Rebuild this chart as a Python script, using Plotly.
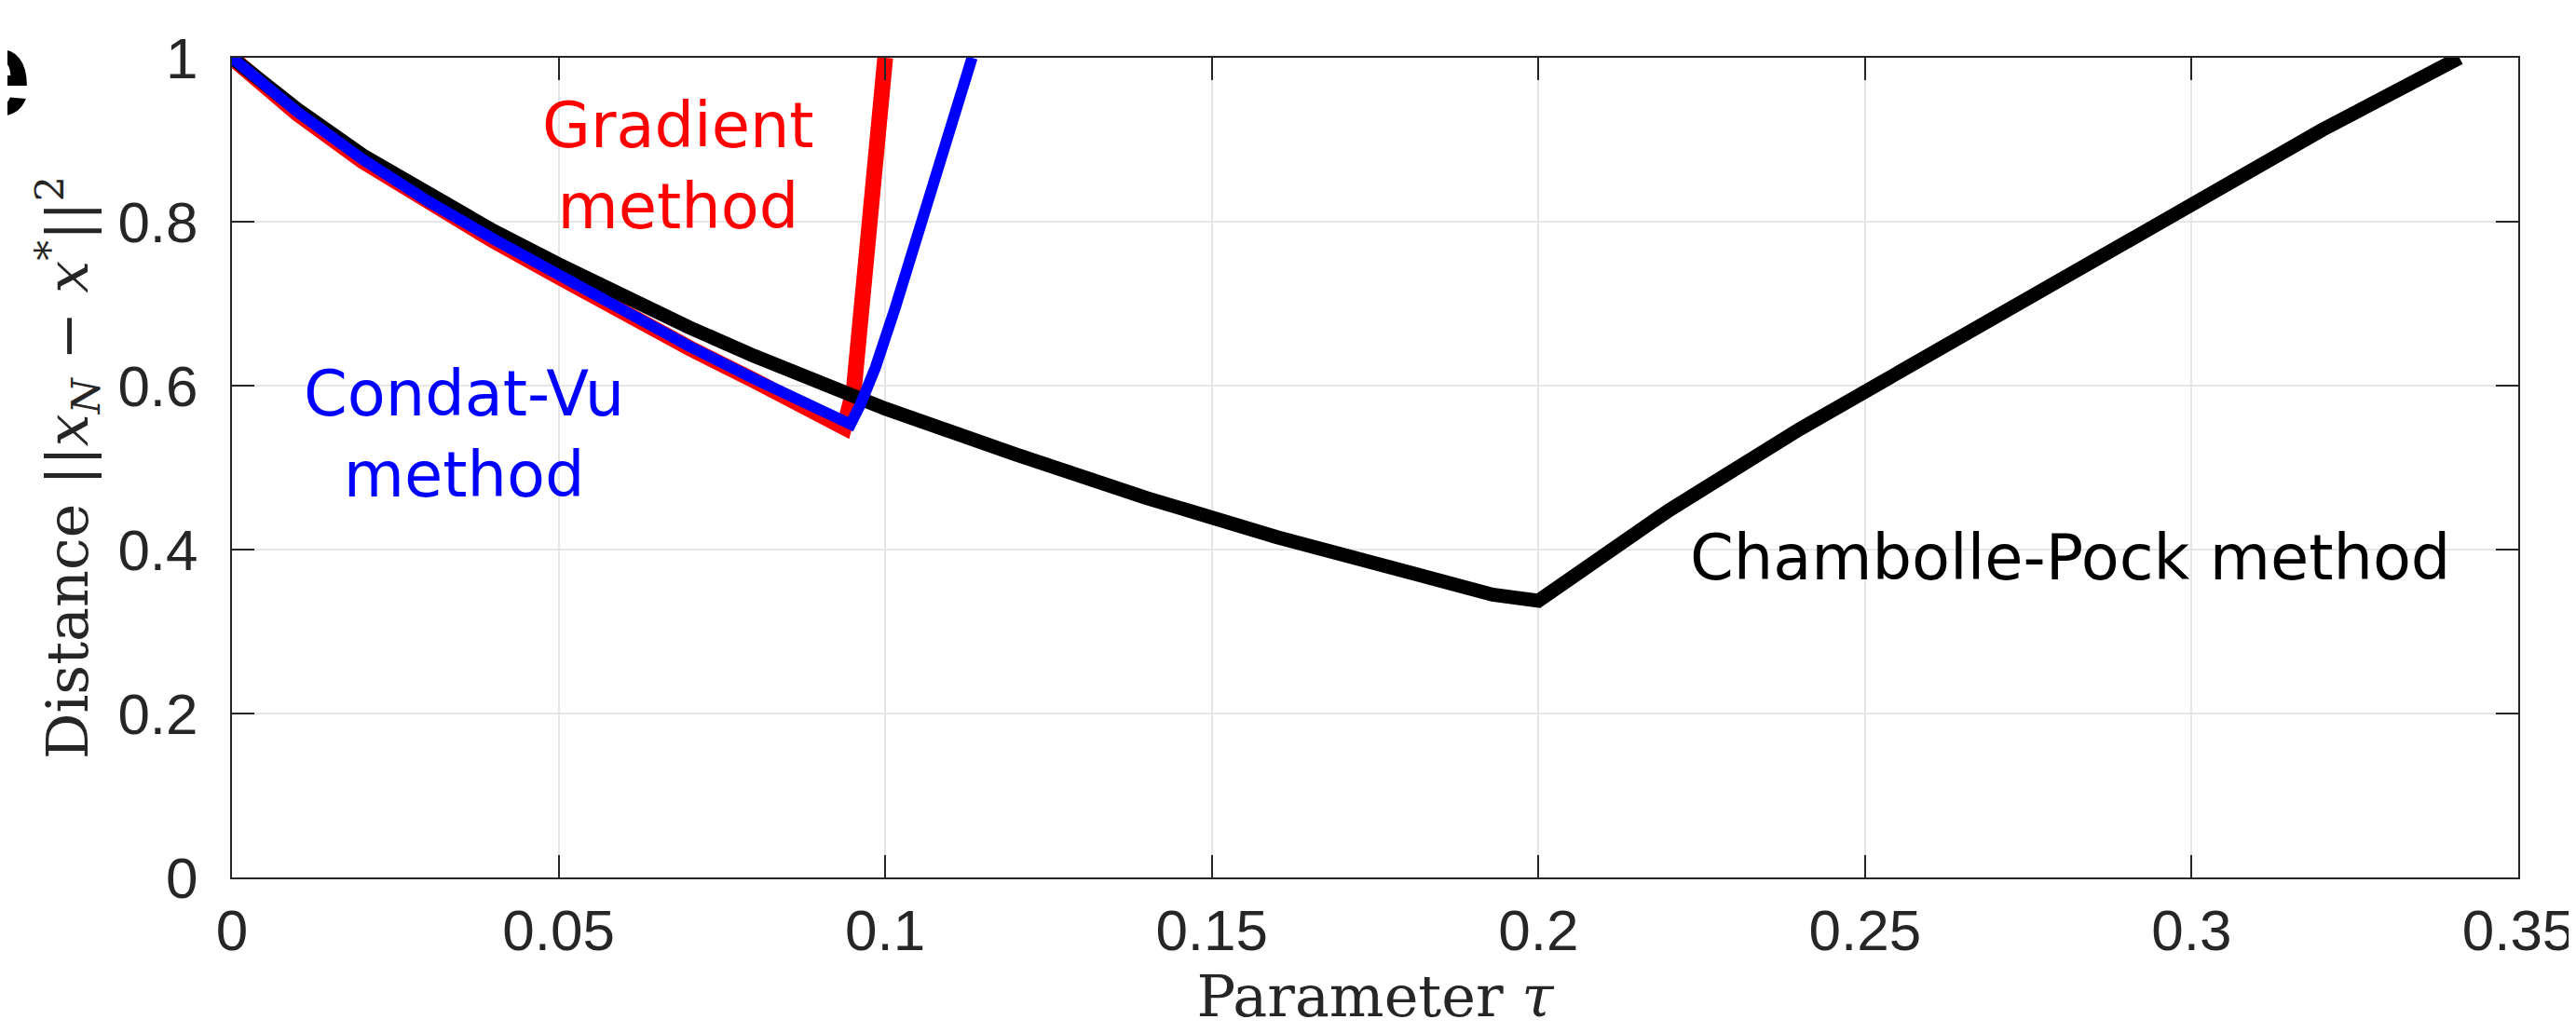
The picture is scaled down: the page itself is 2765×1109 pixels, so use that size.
import plotly.graph_objects as go

# ---- data ----
tau_cp = [0, 0.01, 0.02, 0.03, 0.04, 0.05, 0.06, 0.07, 0.08, 0.09, 0.10, 0.12, 0.14,
          0.16, 0.18, 0.193, 0.2, 0.22, 0.24, 0.26, 0.28, 0.30, 0.32, 0.341]
dist_cp = [1.0, 0.937, 0.881, 0.833, 0.789, 0.748, 0.709, 0.671, 0.636, 0.603, 0.572, 0.516, 0.463,
           0.415, 0.372, 0.345, 0.3375, 0.448, 0.547, 0.638, 0.731, 0.823, 0.912, 1.0]

tau_cv = [0, 0.01, 0.02, 0.03, 0.04, 0.05, 0.06, 0.07, 0.08, 0.09, 0.0947, 0.0962, 0.0985, 0.1015, 0.105, 0.11, 0.1133]
dist_cv = [1.0, 0.934, 0.876, 0.825, 0.779, 0.735, 0.690, 0.648, 0.608, 0.570, 0.553, 0.577, 0.622, 0.694, 0.786, 0.915, 1.0]

tau_gr = [0, 0.01, 0.02, 0.03, 0.04, 0.05, 0.06, 0.07, 0.08, 0.09, 0.0937, 0.0952, 0.1]
dist_gr = [1.0, 0.932, 0.874, 0.823, 0.777, 0.733, 0.688, 0.646, 0.606, 0.568, 0.549, 0.595, 1.0]

x_ticks = [0, 0.05, 0.1, 0.15, 0.2, 0.25, 0.3, 0.35]
y_ticks = [0, 0.2, 0.4, 0.6, 0.8, 1]

W, H = 2765, 1109
L, R, T, B = 241, 70, 54, 175
PW, PH = W - L - R, H - T - B

def px(xp):   # pixel x -> paper x
    return (xp - L) / PW

def py(yp):   # pixel y -> paper y
    return (H - B - yp) / PH

fig = go.Figure()
fig.add_trace(go.Scatter(x=tau_gr, y=dist_gr, mode="lines",
                         line=dict(color="#ff0000", width=17), name="Gradient method"))
fig.add_trace(go.Scatter(x=tau_cp, y=dist_cp, mode="lines",
                         line=dict(color="#000000", width=15), name="Chambolle-Pock method"))
fig.add_trace(go.Scatter(x=tau_cv, y=dist_cv, mode="lines",
                         line=dict(color="#0000ff", width=12), name="Condat-Vu method"))

axis_common = dict(
    showline=True, linecolor="#262626", linewidth=2, mirror="ticks",
    ticks="inside", ticklen=24, tickwidth=2, tickcolor="#262626",
    showgrid=True, gridcolor="#e6e6e6", gridwidth=2, zeroline=False,
    tickfont=dict(family="Liberation Sans, Arial, sans-serif", size=62, color="#262626"),
)

fig.update_layout(
    width=W, height=H,
    margin=dict(l=L, r=R, t=T, b=B, autoexpand=False),
    paper_bgcolor="white", plot_bgcolor="white",
    showlegend=False,
    xaxis=dict(range=[0, 0.35], tickvals=x_ticks,
               ticktext=[("%g" % v) for v in x_ticks],
               ticklabelstandoff=2,
               title=dict(text="Parameter <i>τ</i>", standoff=6,
                          font=dict(family="DejaVu Serif, serif", size=62, color="#262626")),
               **axis_common),
    yaxis=dict(range=[0, 1], tickvals=y_ticks,
               ticktext=[("%g" % v) for v in y_ticks],
               ticklabelstandoff=22,
               title=dict(text="Distance ||<i>x</i><sub><i>N</i></sub> − <i>x</i><sup>*</sup>||<sup>2</sup>",
                          standoff=12,
                          font=dict(family="DejaVu Serif, serif", size=62, color="#262626")),
               **axis_common),
)

sans = "DejaVu Sans, sans-serif"
fig.add_annotation(xref="paper", yref="paper", x=px(720), y=py(170),
                   xanchor="center", yanchor="middle",
                   text="Gradient<br>method", showarrow=False, align="center",
                   font=dict(family=sans, size=67, color="#ff0000"))
fig.add_annotation(xref="paper", yref="paper", x=px(490), y=py(458),
                   xanchor="center", yanchor="middle",
                   text="Condat-Vu<br>method", showarrow=False, align="center",
                   font=dict(family=sans, size=67, color="#0000ff"))
fig.add_annotation(xref="paper", yref="paper", x=px(2214), y=py(591),
                   xanchor="center", yanchor="middle",
                   text="Chambolle-Pock method", showarrow=False,
                   font=dict(family=sans, size=67, color="#000000"))
fig.add_annotation(xref="paper", yref="paper", x=px(-12), y=py(70),
                   xanchor="center", yanchor="middle",
                   text="<b>e</b>", showarrow=False,
                   font=dict(family="Liberation Sans, Arial, sans-serif", size=132, color="#000000"))

fig.write_html("out.html")
